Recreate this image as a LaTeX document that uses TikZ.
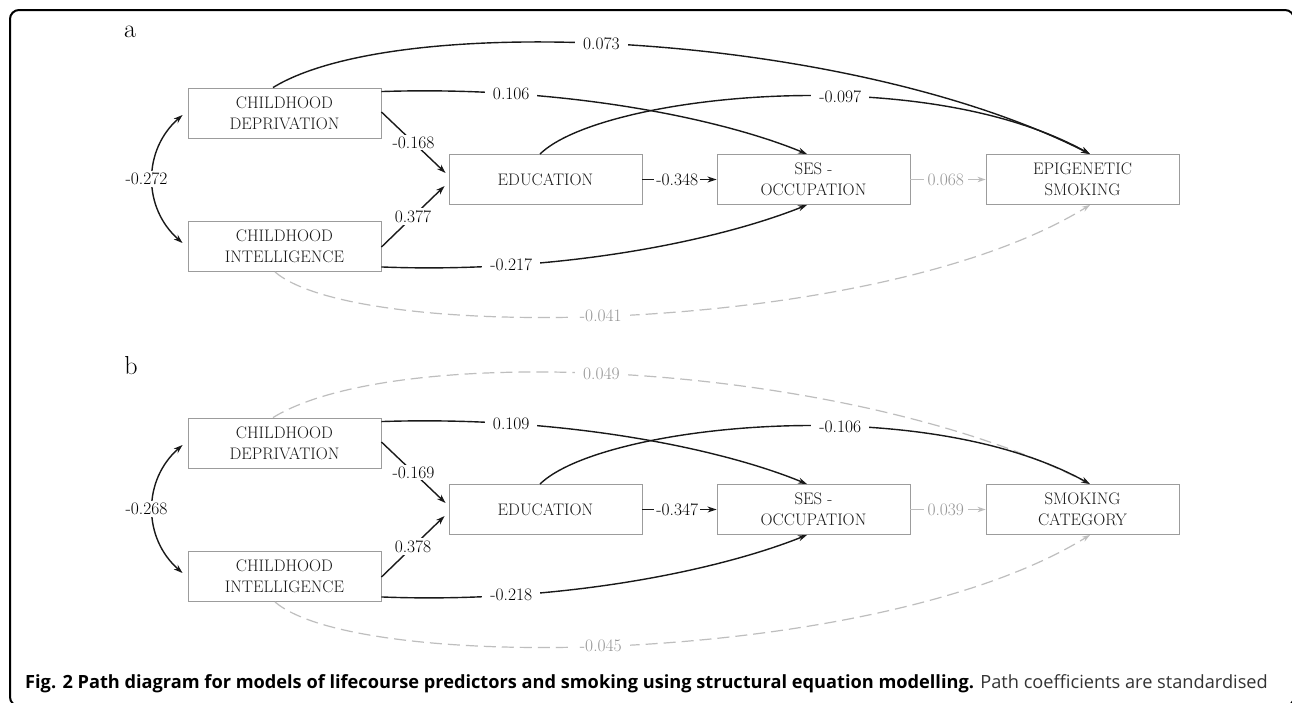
\documentclass[tikz,border=0pt]{standalone}
\usepackage{fontspec}
\newfontfamily\capfont{Open Sans}
\usetikzlibrary{arrows.meta,calc}
\definecolor{boxgray}{HTML}{9C9C9C}
\definecolor{lgray}{HTML}{BEBEBE}
\definecolor{labgray}{HTML}{969696}
\begin{document}
\begin{tikzpicture}[x=1pt,y=-1pt,
  box/.style={draw=boxgray, line width=0.9pt, minimum width=193pt, minimum height=50pt,
    align=center, font=\fontsize{16.7}{21}\selectfont, text=black!90, inner sep=0pt},
  lab/.style={fill=white, font=\fontsize{17.5}{17.5}\selectfont, inner xsep=8pt, inner ysep=2pt, text=black},
  glab/.style={lab, text=labgray},
  blk/.style={line width=1.4pt, draw=black!90, -{Stealth[length=9pt,width=6pt]}},
  dbl/.style={line width=1.4pt, draw=black!90, {Stealth[length=9pt,width=6pt]}-{Stealth[length=9pt,width=6pt]}},
  gsolid/.style={line width=1.2pt, draw=lgray, -{Stealth[length=8pt,width=5.5pt]}},
  gdash/.style={gsolid, dash pattern=on 12pt off 6pt},
  panel/.style={font=\fontsize{26}{26}\selectfont}
]
\useasboundingbox (0,0) rectangle (1292,702);
\fill[white] (0,0) rectangle (1292,702);
\clip (0,0) rectangle (1292,702);
\draw[line width=2pt, rounded corners=9pt] (10,10) rectangle (1294,706);

% ---------------- panel a ----------------
\node[panel] (pa) at (130,32) {a};
\node[box] (depA) at (284.5,113) {CHILDHOOD\\DEPRIVATION};
\node[box] (intA) at (284.5,246.5) {CHILDHOOD\\INTELLIGENCE};
\node[box] (eduA) at (545.5,179.5) {EDUCATION};
\node[box] (sesA) at (813.5,179.5) {SES -\\OCCUPATION};
\node[box] (smkA) at (1082.5,179.5) {EPIGENETIC\\SMOKING};

\draw[dbl] ($(depA.west)+(-5,2)$) .. controls +(-40,35) and +(-40,-35) .. node[lab,pos=0.5,xshift=-6pt,inner xsep=2pt] (lA1) {-0.272} ($(intA.west)+(-5,-3.5)$);
\draw[blk] ($(depA.north)+(-11.5,0)$) .. controls +(127,-78) and +(-240,-122) .. node[lab,pos=0.46] (lA2) {0.073} ($(smkA.north)+(7.5,0)$);
\draw[blk] ($(depA.north east)+(0,4)$) .. controls +(179,-6) and +(-87,-36) .. node[lab,pos=0.25] (lA3) {0.106} ($(sesA.north)+(-6.5,0)$);
\draw[blk] ($(eduA.north)+(-5.5,0)$) .. controls +(60,-59) and +(-170,-94) .. node[lab,pos=0.6] (lA4) {-0.097} ($(smkA.north)+(7.5,0)$);
\draw[blk] ($(depA.east)+(0,-1)$) -- node[lab,pos=0.5,inner xsep=2pt] (lA5) {-0.168} ($(eduA.west)+(-3,-6.5)$);
\draw[blk] ($(intA.east)+(0,0.5)$) -- node[lab,pos=0.5,inner xsep=2pt] (lA6) {0.377} ($(eduA.west)+(-4,6.5)$);
\draw[blk] (eduA.east) -- node[lab,pos=0.47,inner xsep=2pt] (lA7) {-0.348} (sesA.west);
\draw[blk] ($(intA.south east)+(0,-5)$) .. controls +(179,7) and +(-87,35) .. node[lab,pos=0.25] (lA8) {-0.217} ($(sesA.south)+(-6.5,0)$);
\draw[gsolid] (sesA.east) -- node[glab,pos=0.47,inner xsep=4pt] (lA9) {0.068} (smkA.west);
\draw[gdash] ($(intA.south)+(-9.5,0)$) .. controls +(85,73) and +(-210,130) .. node[glab,pos=0.465] (lA10) {-0.041} ($(smkA.south)+(7.5,0)$);

% ---------------- panel b ----------------
\node[panel] (pb) at (131,366) {b};
\node[box] (depB) at (284.5,443) {CHILDHOOD\\DEPRIVATION};
\node[box] (intB) at (284.5,576.5) {CHILDHOOD\\INTELLIGENCE};
\node[box] (eduB) at (545.5,509.5) {EDUCATION};
\node[box] (sesB) at (813.5,509.5) {SES -\\OCCUPATION};
\node[box] (smkB) at (1082.5,509.5) {SMOKING\\CATEGORY};

\draw[dbl] ($(depB.west)+(-5,2)$) .. controls +(-40,35) and +(-40,-35) .. node[lab,pos=0.5,xshift=-6pt,inner xsep=2pt] (lB1) {-0.268} ($(intB.west)+(-5,-3.5)$);
\draw[gdash] ($(depB.north)+(-11.5,0)$) .. controls +(127,-78) and +(-240,-122) .. node[glab,pos=0.46] (lB2) {0.049} ($(smkB.north)+(7.5,0)$);
\draw[blk] ($(depB.north east)+(0,4)$) .. controls +(179,-6) and +(-87,-36) .. node[lab,pos=0.25] (lB3) {0.109} ($(sesB.north)+(-6.5,0)$);
\draw[blk] ($(eduB.north)+(-5.5,0)$) .. controls +(60,-59) and +(-170,-94) .. node[lab,pos=0.6] (lB4) {-0.106} ($(smkB.north)+(7.5,0)$);
\draw[blk] ($(depB.east)+(0,-1)$) -- node[lab,pos=0.5,inner xsep=2pt] (lB5) {-0.169} ($(eduB.west)+(-3,-6.5)$);
\draw[blk] ($(intB.east)+(0,0.5)$) -- node[lab,pos=0.5,inner xsep=2pt] (lB6) {0.378} ($(eduB.west)+(-4,6.5)$);
\draw[blk] (eduB.east) -- node[lab,pos=0.47,inner xsep=2pt] (lB7) {-0.347} (sesB.west);
\draw[blk] ($(intB.south east)+(0,-5)$) .. controls +(179,7) and +(-87,35) .. node[lab,pos=0.25] (lB8) {-0.218} ($(sesB.south)+(-6.5,0)$);
\draw[gsolid] (sesB.east) -- node[glab,pos=0.47,inner xsep=4pt] (lB9) {0.039} (smkB.west);
\draw[gdash] ($(intB.south)+(-9.5,0)$) .. controls +(85,73) and +(-210,130) .. node[glab,pos=0.465] (lB10) {-0.045} ($(smkB.south)+(7.5,0)$);

% ---------------- caption ----------------
\node[anchor=base west, inner sep=0pt, font=\capfont\fontsize{18.2}{18.2}\selectfont] (cap) at (25,688)
  {\textbf{Fig. 2 Path diagram for models of lifecourse predictors and smoking using structural equation modelling.} {\color{black!80}Path coefficients are standardised}};
\end{tikzpicture}
\end{document}
